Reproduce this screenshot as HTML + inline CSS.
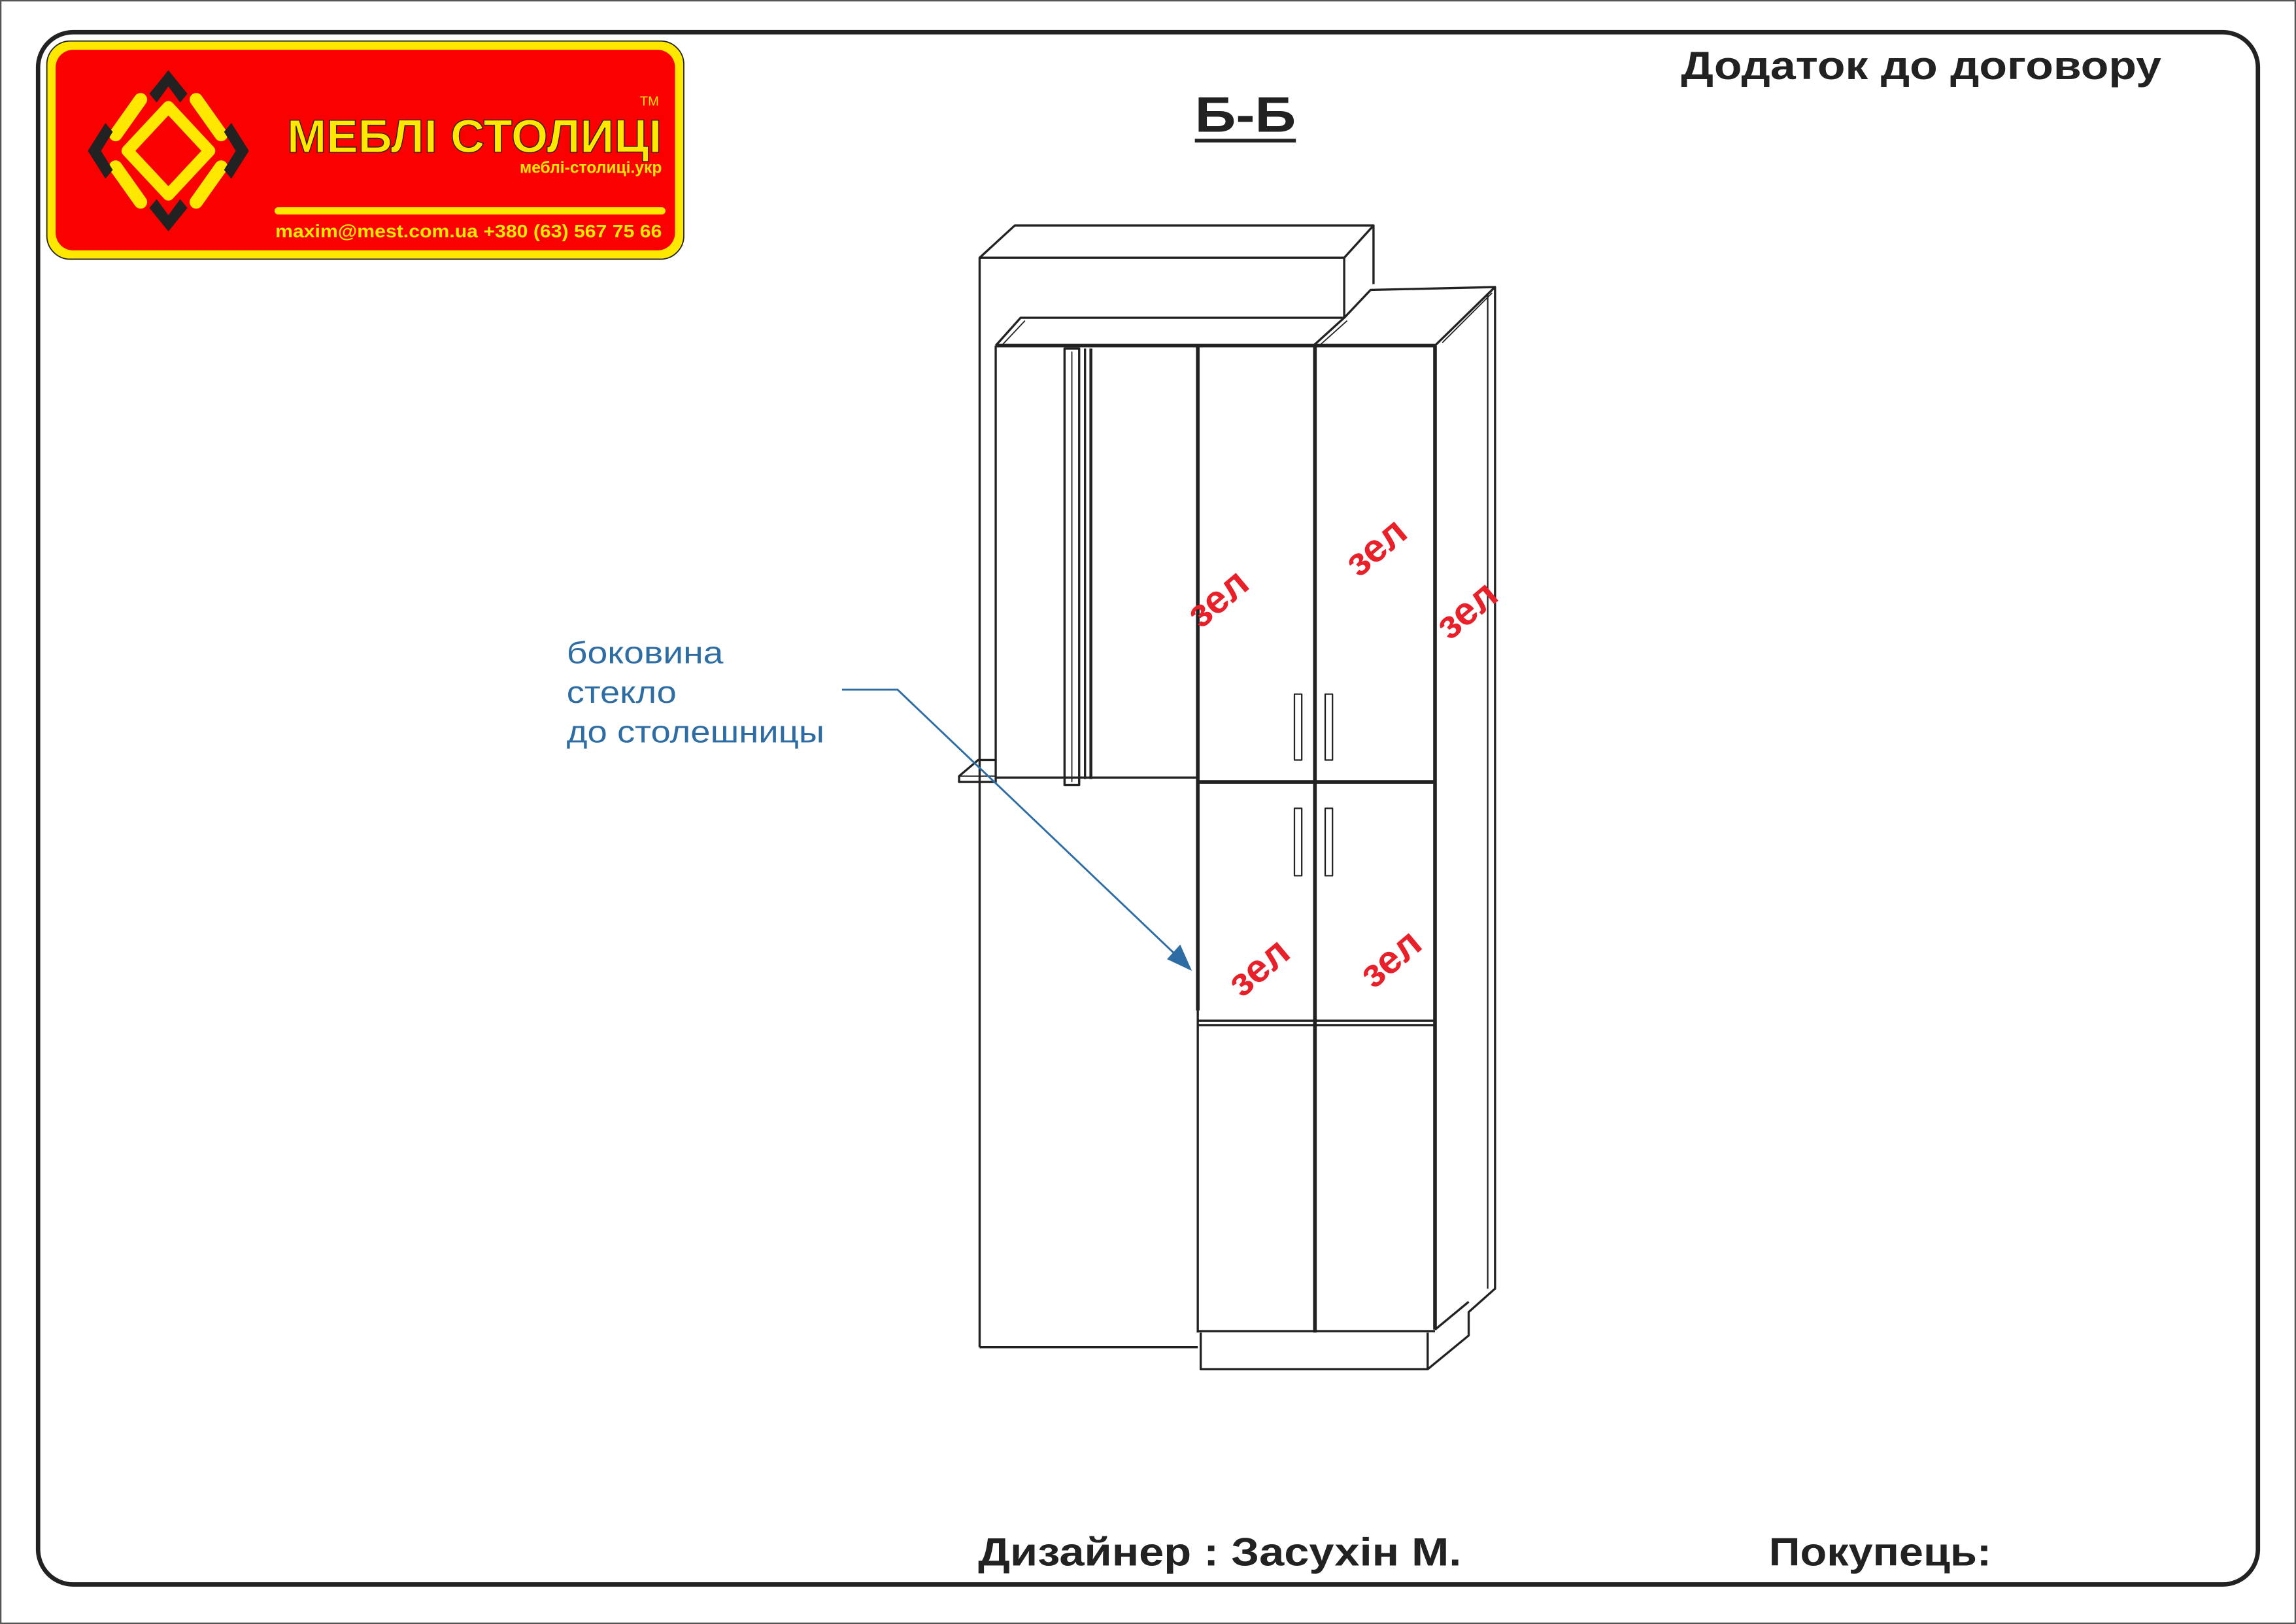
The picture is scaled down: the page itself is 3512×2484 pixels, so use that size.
<!DOCTYPE html>
<html><head><meta charset="utf-8"><style>
html,body{margin:0;padding:0;background:#fff;}
svg{display:block;}
text{font-family:"Liberation Sans",sans-serif;}
</style></head><body>
<svg width="3512" height="2484" viewBox="0 0 1568 1109" preserveAspectRatio="none" xmlns="http://www.w3.org/2000/svg">
<rect x="0.5" y="0.5" width="1567" height="1108" fill="#fff" stroke="#555" stroke-width="1"/>
<rect x="26" y="22" width="1516" height="1060" rx="24" fill="none" stroke="#222" stroke-width="3"/>
<!-- logo -->
<rect x="32" y="28" width="435" height="149" rx="16" fill="#ffe800" stroke="#222" stroke-width="0.8"/>
<rect x="38" y="34" width="423" height="137" rx="12" fill="#fa0000"/>
<g stroke-linecap="round" fill="none">
<polygon points="115,73 143,103 115,133 87,103" stroke="#ffe800" stroke-width="8" stroke-linejoin="round"/>
<line x1="96" y1="68" x2="79" y2="92" stroke="#ffe800" stroke-width="9"/>
<line x1="134" y1="68" x2="151" y2="92" stroke="#ffe800" stroke-width="9"/>
<line x1="96" y1="138" x2="79" y2="114" stroke="#ffe800" stroke-width="9"/>
<line x1="134" y1="138" x2="151" y2="114" stroke="#ffe800" stroke-width="9"/>
</g>
<g fill="#222">
<polygon points="115,48 128,64 123,70 115,59 107,70 102,64"/>
<polygon points="115,158 128,142 123,136 115,147 107,136 102,142"/>
<polygon points="60,103 72,84 77,90 69,103 77,116 72,122"/>
<polygon points="170,103 158,84 153,90 161,103 153,116 158,122"/>
</g>
<text x="196" y="104" font-size="32" font-weight="bold" fill="#ffe800" textLength="256" lengthAdjust="spacingAndGlyphs" stroke="#222" stroke-width="0.6">МЕБЛІ СТОЛИЦІ</text>
<text x="437" y="72" font-size="9" fill="#ffe800">TM</text>
<text x="452" y="118" font-size="11" font-weight="bold" fill="#ffe800" text-anchor="end">меблі-столиці.укр</text>
<line x1="190" y1="144" x2="452" y2="144" stroke="#ffe800" stroke-width="5" stroke-linecap="round"/>
<text x="188" y="162" font-size="12.5" font-weight="bold" fill="#ffe800" textLength="264" lengthAdjust="spacingAndGlyphs">maxim@mest.com.ua  +380 (63) 567 75 66</text>
<!-- headings -->
<text x="816" y="90" font-size="34" font-weight="bold" fill="#222" textLength="69" lengthAdjust="spacingAndGlyphs">Б-Б</text>
<line x1="816" y1="96" x2="885" y2="96" stroke="#222" stroke-width="2.5"/>
<text x="1148" y="54" font-size="27" font-weight="bold" fill="#222" textLength="328" lengthAdjust="spacingAndGlyphs">Додаток до договору</text>
<text x="668" y="1069" font-size="27" font-weight="bold" fill="#222" textLength="330" lengthAdjust="spacingAndGlyphs">Дизайнер : Засухін М.</text>
<text x="1208" y="1069" font-size="27" font-weight="bold" fill="#222" textLength="152" lengthAdjust="spacingAndGlyphs">Покупець:</text>
<!-- cabinet -->
<g fill="none" stroke="#222" stroke-width="1.5" stroke-linejoin="round">
<polyline points="669,920 669,176 693,154 938,154 938,194"/>
<line x1="669" y1="176" x2="918" y2="176"/>
<line x1="918" y1="176" x2="938" y2="154"/>
<line x1="918" y1="176" x2="918" y2="217"/>
<polyline points="680,236 697,217 918,217"/>
<line x1="684" y1="236" x2="700" y2="219" stroke-width="0.8"/>
<polyline points="897,236 918,217 936,198 1021,196"/>
<line x1="901" y1="236" x2="920" y2="219" stroke-width="0.8"/>
<polyline points="980,236 1021,196 1021,880 1003,896 1003,912 975,935"/>
<line x1="985" y1="234" x2="1019" y2="200" stroke-width="0.8"/>
<line x1="1016" y1="200" x2="1016" y2="880" stroke-width="1"/>
<line x1="669" y1="920" x2="818" y2="920"/>
<line x1="680" y1="236" x2="680" y2="519"/>
<polygon points="655,530 668,519 680,519 680,534 655,534"/>
<line x1="655" y1="530" x2="680" y2="530" stroke-width="0.8"/>
<line x1="680" y1="531" x2="818" y2="531"/>
<rect x="727" y="238" width="10" height="298"/>
<line x1="732" y1="240" x2="732" y2="534" stroke-width="0.8"/>
<line x1="741" y1="238" x2="741" y2="532"/>
<line x1="745" y1="238" x2="745" y2="532" stroke-width="2"/>
<line x1="680" y1="236" x2="980" y2="236" stroke-width="2.5"/>
<line x1="818" y1="236" x2="818" y2="690" stroke-width="2.5"/>
<line x1="818" y1="690" x2="818" y2="910"/>
<line x1="898" y1="236" x2="898" y2="910" stroke-width="2.5"/>
<line x1="980" y1="236" x2="980" y2="908" stroke-width="2.5"/>
<line x1="818" y1="534" x2="980" y2="534" stroke-width="2.5"/>
<line x1="818" y1="697" x2="980" y2="697"/>
<line x1="818" y1="700" x2="980" y2="700"/>
<line x1="818" y1="909" x2="980" y2="909"/>
<polyline points="820,910 820,935 975,935 975,910"/>
<line x1="980" y1="908" x2="1003" y2="889"/>
<rect x="884" y="474" width="5" height="45" stroke-width="1"/>
<rect x="905" y="474" width="5" height="45" stroke-width="1"/>
<rect x="884" y="552" width="5" height="46" stroke-width="1"/>
<rect x="905" y="552" width="5" height="46" stroke-width="1"/>
</g>
<!-- annotation -->
<g fill="#2e6da4">
<text x="387" y="453" font-size="21" textLength="107" lengthAdjust="spacingAndGlyphs">боковина</text>
<text x="387" y="480" font-size="21" textLength="75" lengthAdjust="spacingAndGlyphs">стекло</text>
<text x="387" y="507" font-size="21" textLength="176" lengthAdjust="spacingAndGlyphs">до столешницы</text>
<polyline points="575,471 613,471 805,654" fill="none" stroke="#2e6da4" stroke-width="1.3"/>
<polygon points="814,663 797,655 806,645"/>
</g>
<!-- red labels -->
<g fill="#e8202a" font-size="27" font-weight="bold">
<text transform="translate(820,430) rotate(-40)">зел</text>
<text transform="translate(928,395) rotate(-40)">зел</text>
<text transform="translate(990,438) rotate(-40)">зел</text>
<text transform="translate(848,682) rotate(-40)">зел</text>
<text transform="translate(938,676) rotate(-40)">зел</text>
</g>
</svg>
</body></html>
